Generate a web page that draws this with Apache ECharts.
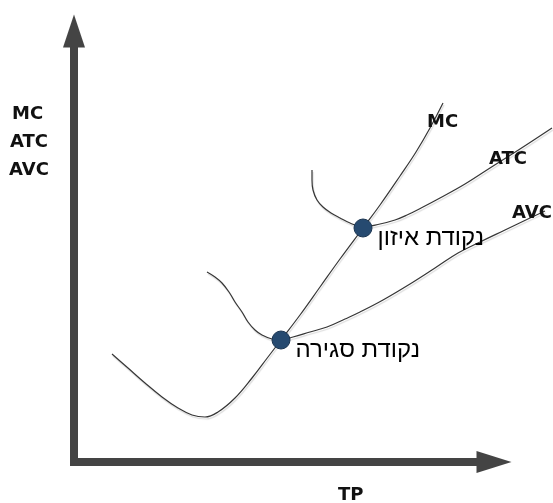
<!DOCTYPE html>
<html lang="he">
  <head>
    <meta charset="UTF-8" />
    <title>MC ATC AVC</title>
    <script src="https://cdn.jsdelivr.net/npm/echarts@6/dist/echarts.min.js"></script>
    <style>
      html, body { margin: 0; padding: 0; background: #fff; }
      #main { width: 553px; height: 503px; }
    </style>
  </head>
  <body>
    <div id="main"></div>
    <script>
      // curve points [quantity, cost]
      const mcCurve = [
        [38, 108], [54, 94], [71, 79], [88, 65], [104, 54], [118, 47], [131, 45],
        [144, 50], [161, 64], [178, 84], [194, 105], [207, 122], [226, 147],
        [246, 175], [266, 203], [289, 234], [306, 257], [326, 286], [342, 310],
        [356, 334], [369, 359]
      ]
      const atcCurve = [
        [238, 292], [238, 282], [239, 272], [243, 262], [249, 255], [257, 249],
        [266, 244], [276, 239], [289, 235], [306, 238], [321, 242], [333, 247],
        [349, 255], [366, 264], [391, 278], [416, 294], [446, 313], [478, 334]
      ]
      const avcCurve = [
        [133, 190], [141, 185], [148, 179], [155, 170], [161, 160], [168, 150],
        [174, 140], [181, 132], [188, 127], [198, 123], [207, 122], [219, 125],
        [236, 130], [253, 135], [271, 143], [286, 150], [309, 162], [336, 178],
        [361, 194], [384, 209], [406, 220], [431, 232], [456, 244], [471, 251]
      ]
      const keyPoints = [[207, 122], [289, 234]]
      const keyNames = ['נקודת סגירה', 'נקודת איזון']

      const chart = echarts.init(document.getElementById('main'))

      const curveStyle = {
        color: '#363636',
        width: 1.2,
        shadowColor: 'rgba(0,0,0,0.15)',
        shadowOffsetX: 1,
        shadowOffsetY: 2,
        shadowBlur: 1
      }
      const curve = (name, data) => ({
        name,
        type: 'line',
        xAxisIndex: 1,
        yAxisIndex: 1,
        data,
        smooth: 0.4,
        showSymbol: false,
        clip: false,
        silent: true,
        lineStyle: curveStyle,
        z: 2
      })
      const boldText = {
        font: 'bold 18px "DejaVu Sans"',
        fill: '#111'
      }
      const axisLineStyle = { color: '#444', width: 8, cap: 'butt' }
      const bare = { axisTick: { show: false }, axisLabel: { show: false }, splitLine: { show: false } }

      const option = {
        animation: false,
        grid: [
          // arrow axes
          { left: 70, right: 59, top: 31, bottom: 37 },
          // drawing area, same scale, whole canvas
          { left: 70, right: 0, top: 0, bottom: 37 }
        ],
        xAxis: [
          Object.assign({
            type: 'value', gridIndex: 0, min: -4, max: 420,
            axisLine: {
              onZero: true,
              symbol: ['none', 'triangle'],
              symbolSize: [22, 35],
              lineStyle: axisLineStyle
            }
          }, bare),
          { type: 'value', gridIndex: 1, min: -4, max: 479, show: false }
        ],
        yAxis: [
          Object.assign({
            type: 'value', gridIndex: 0, min: -4, max: 431,
            axisLine: {
              show: true,
              onZero: true,
              symbol: ['none', 'triangle'],
              symbolSize: [22, 33],
              lineStyle: axisLineStyle
            }
          }, bare),
          { type: 'value', gridIndex: 1, min: -4, max: 462, show: false }
        ],
        series: [
          curve('MC', mcCurve),
          curve('ATC', atcCurve),
          curve('AVC', avcCurve),
          {
            type: 'scatter',
            xAxisIndex: 1,
            yAxisIndex: 1,
            data: keyPoints.map((p, i) => ({ value: p, name: keyNames[i] })),
            symbolSize: 18,
            itemStyle: { color: '#264a70', borderColor: '#1a3450', borderWidth: 1, opacity: 1 },
            label: {
              show: true,
              position: 'right',
              distance: 5,
              offset: [0, 10],
              formatter: (p) => p.name,
              fontFamily: '"Liberation Sans", "DejaVu Sans"',
              fontSize: 24,
              color: '#000'
            },
            z: 5
          }
        ],
        graphic: [
          { type: 'text', left: 12, top: 105, style: Object.assign({ text: 'MC' }, boldText) },
          { type: 'text', left: 10, top: 133, style: Object.assign({ text: 'ATC' }, boldText) },
          { type: 'text', left: 9, top: 161, style: Object.assign({ text: 'AVC' }, boldText) },
          { type: 'text', left: 338, top: 486, style: Object.assign({ text: 'TP' }, boldText) },
          { type: 'text', left: 427, top: 113, z: 10, style: Object.assign({ text: 'MC' }, boldText) },
          { type: 'text', left: 489, top: 150, z: 10, style: Object.assign({ text: 'ATC' }, boldText) },
          { type: 'text', left: 512, top: 204, z: 10, style: Object.assign({ text: 'AVC' }, boldText) }
        ]
      }

      chart.setOption(option)
    </script>
  </body>
</html>
